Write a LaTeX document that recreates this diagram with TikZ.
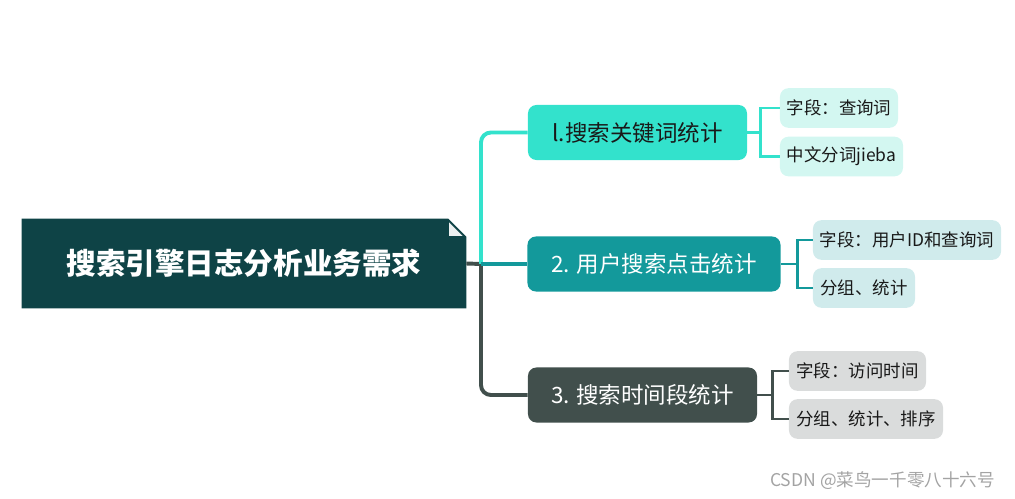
\documentclass[tikz,border=0pt]{standalone}
\usepackage{fontspec}
\setmainfont{Noto Sans CJK SC}
\usepackage{tikz}
\usetikzlibrary{positioning, backgrounds}
\usepackage{xcolor}
\definecolor{RootFill}{HTML}{0E4346}
\definecolor{CyanMain}{HTML}{33E2CC}
\definecolor{CyanSub}{HTML}{D3F7F1}
\definecolor{TealMain}{HTML}{13999B}
\definecolor{TealSub}{HTML}{D0EBEC}
\definecolor{GrayMain}{HTML}{414F4C}
\definecolor{GraySub}{HTML}{DADCDC}
\definecolor{MarkGray}{HTML}{A3A3A3}

\begin{document}
\begin{tikzpicture}[
    x=0.025cm, y=-0.025cm,
    every node/.style={inner sep=2pt},
    rootbox/.style={minimum width=11.1cm, minimum height=2.225cm,
                    font=\fontsize{21}{24}\selectfont\bfseries, text=white},
    topic/.style={rounded corners=6pt, align=center, minimum height=1.375cm,
                  font=\fontsize{16}{19}\selectfont},
    sub/.style={rounded corners=6pt, align=center, minimum height=0.99cm,
                font=\fontsize{12.4}{15}\selectfont, text=black!90},
    lnc/.style={draw=CyanMain, line width=2.8pt},
    lnt/.style={draw=TealMain, line width=2.8pt},
    lng/.style={draw=GrayMain, line width=2.8pt},
    thin/.style={line width=2.1pt},
  ]
    \useasboundingbox (0,0) rectangle (1015,499);

    \node[rootbox] (root) at (244,263.5) {搜索引擎日志分析业务需求};
    \begin{pgfonlayer}{background}
      \fill[RootFill] (root.south west) -- (root.north west)
        -- ([xshift=-0.45cm]root.north east) -- ([yshift=-0.45cm]root.north east)
        -- (root.south east) -- cycle;
      \filldraw[fill=white!92!RootFill, draw=RootFill, line width=0.8pt]
        ([xshift=-0.45cm,yshift=-0.05cm]root.north east)
        -- ([xshift=-0.45cm,yshift=-0.45cm]root.north east)
        -- ([xshift=-0.05cm,yshift=-0.45cm]root.north east) -- cycle;
    \end{pgfonlayer}

    \node[topic, fill=CyanMain, text=black!90, minimum width=5.475cm] (t1) at (637.5,132.5)
      {l.搜索关键词统计};
    \node[topic, fill=TealMain, text=white, minimum width=6.325cm] (t2) at (654,264)
      {2. 用户搜索点击统计};
    \node[topic, fill=GrayMain, text=white, minimum width=5.725cm] (t3) at (642.5,395)
      {3. 搜索时间段统计};

    \node[sub, fill=CyanSub, minimum width=2.95cm]  (s11) at (839,108)   {字段：查询词};
    \node[sub, fill=CyanSub, minimum width=3.075cm] (s12) at (841.5,156.5) {中文分词jieba};
    \node[sub, fill=TealSub, minimum width=4.7cm]   (s21) at (907,240)   {字段：用户ID和查询词};
    \node[sub, fill=TealSub, minimum width=2.55cm]  (s22) at (864,288)   {分组、统计};
    \node[sub, fill=GraySub, minimum width=3.425cm] (s31) at (857.5,371) {字段：访问时间};
    \node[sub, fill=GraySub, minimum width=3.85cm]  (s32) at (866,419)   {分组、统计、排序};

    \coordinate (fork) at (481,264);
    \draw[lng] (root.east) -- (fork);
    \draw[lnc, rounded corners=7pt] (fork) |- (t1.west);
    \draw[lng, rounded corners=7pt] (fork) |- (t3.west);
    \draw[lnt] (fork) -- (t2.west);

    \draw[lnc, thin] (t1.east) -- ++(13,0) |- (s11.west);
    \draw[lnc, thin] (t1.east) -- ++(13,0) |- (s12.west);
    \draw[lnt, thin] (t2.east) -- ++(17,0) |- (s21.west);
    \draw[lnt, thin] (t2.east) -- ++(17,0) |- (s22.west);
    \draw[lng, thin] (t3.east) -- ++(15,0) |- (s31.west);
    \draw[lng, thin] (t3.east) -- ++(15,0) |- (s32.west);

    \node[anchor=east, text=MarkGray, font=\fontsize{12.5}{15}\selectfont] (mark) at (998,481)
      {CSDN @菜鸟一千零八十六号};
  \end{tikzpicture}
\end{document}
